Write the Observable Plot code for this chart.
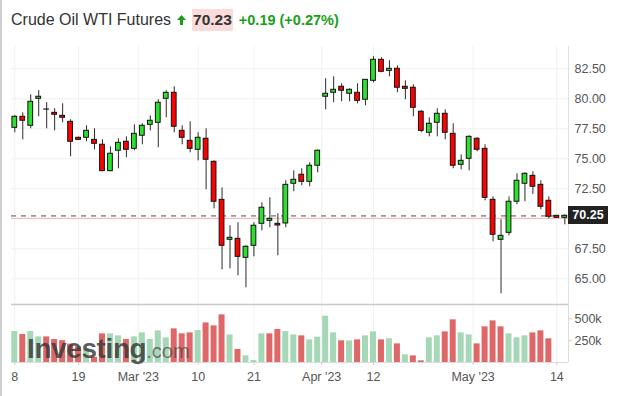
<!DOCTYPE html>
<html>
<head>
<meta charset="utf-8">
<script src="https://cdn.jsdelivr.net/npm/d3@7"></script>
<script src="https://cdn.jsdelivr.net/npm/@observablehq/plot@0.6"></script>
<style>
  html, body { margin: 0; padding: 0; background: #fff; }
  #root { position: relative; width: 637px; height: 396px; overflow: hidden; font-family: "Liberation Sans", Arial, sans-serif; }
  #leftBorder { position: absolute; left: 0; top: 0; width: 2px; height: 396px; background: #cfcfcf; }
  #header { position: absolute; left: 11px; top: 8px; height: 24px; display: flex; align-items: center; white-space: nowrap; }
  #title { font-size: 16px; color: #333; }
  #arrow { margin-left: 6px; margin-right: 6px; }
  #last { font-size: 15.5px; font-weight: bold; color: #333; background: #fadada; height: 22px; line-height: 22px; padding: 0 1px; }
  #chg { font-size: 14.5px; font-weight: bold; color: #1a9e1a; margin-left: 6px; }
  .panel { position: absolute; left: 0; }
  #priceBox { position: absolute; left: 568px; width: 40px; height: 18px; line-height: 18px; background: #222; color: #fff; font-size: 12.5px; font-weight: bold; text-align: center; }
  #wm { position: absolute; left: 27px; top: 334.6px; line-height: 28px; white-space: nowrap; pointer-events: none; }
  #wm .a { font-size: 28px; font-weight: bold; color: rgba(55,55,55,0.82); letter-spacing: -0.4px; }
  #wm .b { font-size: 20px; color: rgba(70,70,70,0.72); }
</style>
</head>
<body>
<div id="root">
  <div id="leftBorder"></div>
  <div id="header">
    <span id="title"></span>
    <svg id="arrow" width="9" height="10" viewBox="0 0 9 10"><path d="M4.5,0 L9,5 L6,5 L6,10 L3,10 L3,5 L0,5 Z" fill="#1a9e1a"/></svg>
    <span id="last"></span>
    <span id="chg"></span>
  </div>
</div>
<script>
// ---- header text ----
const titleText = "Crude Oil WTI Futures";
const lastText = "70.23";
const changeText = "+0.19 (+0.27%)";

// ---- candles (daily OHLC) ----
const opens = [77.58,78.5,77.75,80.0,79.11,78.83,78.58,78.08,76.75,76.75,
  76.58,76.17,73.97,75.67,76.42,75.83,76.92,77.83,78.0,80.0,
  80.5,77.33,76.5,75.75,76.67,74.75,71.58,68.25,68.33,66.75,
  67.75,69.58,69.83,69.58,69.61,72.92,73.67,73.08,74.42,80.17,
  80.5,81.0,80.42,80.5,79.92,81.5,83.25,82.33,82.5,81.0,
  80.92,78.92,77.17,78.0,78.75,77.08,74.5,75.0,76.67,75.83,
  71.58,68.25,68.83,71.42,72.92,73.58,72.83,71.5,70.25,70.08];
const closes = [78.5,78.17,79.75,80.17,79.1,78.67,78.42,76.42,76.58,77.33,
  76.25,73.97,75.42,76.33,75.75,77.08,77.75,78.17,79.67,80.5,
  77.67,76.75,75.83,76.75,74.92,71.42,67.75,68.42,66.83,67.67,
  69.42,70.92,70.0,69.44,72.83,73.25,73.08,74.42,75.67,80.42,
  80.75,80.67,80.75,79.83,81.58,83.25,82.25,82.5,80.92,80.83,
  79.25,77.33,77.92,78.75,77.17,74.42,74.83,76.83,75.75,71.75,
  68.67,68.58,71.42,73.17,73.75,72.67,71.0,70.17,70.08,70.25];
const highs = [78.61,78.83,80.33,80.69,79.67,79.17,79.58,78.25,76.8,77.75,
  77.5,76.58,76.0,76.67,76.83,77.83,77.92,78.58,79.92,80.67,
  81.0,77.75,78.08,77.17,77.5,74.83,72.58,69.42,69.67,67.75,
  69.67,71.33,71.75,70.42,73.17,74.0,74.17,74.67,75.75,81.67,
  81.83,81.25,80.83,81.25,81.58,83.5,83.42,83.17,82.75,81.5,
  81.17,79.0,78.42,79.17,79.08,77.92,75.33,76.92,76.75,76.17,
  71.83,69.92,71.83,73.75,73.83,73.92,73.17,71.83,70.25,70.33];
const lows = [77.17,76.58,77.5,78.5,77.5,77.33,78.0,75.17,76.53,76.42,
  75.75,73.92,73.92,74.17,75.08,75.67,76.17,77.33,75.92,78.42,
  77.17,76.17,75.5,74.83,72.42,70.83,65.75,65.83,65.25,64.25,
  66.83,69.0,69.25,66.92,69.25,72.25,72.75,72.67,73.83,79.08,
  79.67,79.75,79.75,79.58,79.42,81.33,82.17,81.83,80.5,79.92,
  78.5,77.17,76.83,76.83,76.58,74.17,74.08,74.0,75.58,71.5,
  68.08,63.75,68.58,71.17,71.42,72.03,70.75,70.0,70.03,69.5];

// ---- volume (thousands) and bar direction ----
const volumes = [354,320,354,293,293,263,250,210,180,150,
  60,328,328,305,263,293,339,263,362,282,
  385,328,339,366,453,419,545,316,149,76,
  23,328,328,377,354,316,305,259,290,530,
  339,248,248,259,305,350,259,271,213,88,
  76,19,282,305,350,488,339,316,213,408,
  476,408,328,282,305,339,362,271];
const volumeDir = ("GRGGRRRRRG" + "RRGGRGGGGG" + "RRRGRRRGRG" + "GGRRGGRGGG" +
  "GRGRGGRGRG" + "RRGGRRGGRR" + "RRGGGRRR").split("");

// ---- reference levels ----
const lastPrice = 70.25;
const prevClose = 70.04;

// ---- axes ----
const priceTicks = [65, 67.5, 70, 72.5, 75, 77.5, 80, 82.5];
const volumeTicks = [250, 500];
const dateTickIndex = [0, 8, 15.5, 23, 30, 38.5, 45, 57.5, 68];
const dateTickLabels = ["8", "19", "Mar '23", "10", "21", "Apr '23", "12", "May '23", "14"];

// ---- styling ----
const upColor = "#2ee02e", downColor = "#ff0000";
const volUp = "#a6d7b6", volDown = "#e06767";
const gridColor = "#f1f1f1";
const textColor = "#555";
const font = '"Liberation Sans", Arial, sans-serif';

document.getElementById("title").textContent = titleText;
document.getElementById("last").textContent = lastText;
document.getElementById("chg").textContent = changeText;

const candles = opens.map((o, i) => ({i, open: o, close: closes[i], high: highs[i], low: lows[i]}));
const vols = volumes.map((v, i) => ({i, v, up: volumeDir[i] === "G"}));
// the tick label behind the last-price box is hidden
const labelTicks = priceTicks.filter(t => Math.abs(t - lastPrice) > 1);

const W = 637;
const mL = 11, mR = 69;
const xDomain = [-0.414, 69.464];

const priceChart = Plot.plot({
  width: W, height: 264,
  marginLeft: mL, marginRight: mR, marginTop: 6, marginBottom: 0,
  style: {fontFamily: font, fontSize: "12.5px", background: "transparent", overflow: "visible"},
  x: {domain: xDomain, axis: null},
  y: {domain: [62.858, 84.358], axis: null},
  marks: [
    Plot.ruleY(priceTicks, {stroke: gridColor}),
    Plot.ruleX(dateTickIndex, {stroke: gridColor}),
    Plot.ruleX([xDomain[1]], {stroke: "#e2e2e2"}),
    Plot.ruleY([prevClose], {stroke: "#f6b2b2"}),
    Plot.ruleY([lastPrice], {stroke: "#9a9a9a", strokeWidth: 1.8, strokeDasharray: "5,5"}),
    Plot.ruleX(candles, {x: "i", y1: "low", y2: "high", stroke: "#2b2b2b", strokeWidth: 1}),
    Plot.rect(candles, {
      x1: d => d.i - 0.3, x2: d => d.i + 0.3,
      y1: "open", y2: "close",
      fill: d => d.close >= d.open ? upColor : downColor,
      stroke: "#111", strokeWidth: 1
    }),
    Plot.axisY(labelTicks, {anchor: "right", tickSize: 0, tickPadding: 6, label: null, tickFormat: d => d.toFixed(2), fill: textColor})
  ]
});
priceChart.classList.add("panel");
priceChart.style.top = "40px";

const volChart = Plot.plot({
  width: W, height: 92,
  marginLeft: mL, marginRight: mR, marginTop: 0, marginBottom: 34,
  style: {fontFamily: font, fontSize: "12.5px", background: "transparent", overflow: "visible"},
  x: {domain: xDomain, axis: null},
  y: {domain: [0, 663.6], axis: null},
  color: {type: "identity"},
  marks: [
    Plot.ruleX(dateTickIndex, {stroke: gridColor}),
    Plot.rectY(vols, {x1: d => d.i - 0.376, x2: d => d.i + 0.376, y1: 0, y2: "v", fill: d => d.up ? volUp : volDown}),
    Plot.ruleY([663.6], {stroke: "#c8c8c8", strokeWidth: 1.5}),
    Plot.ruleY([0], {stroke: "#dcdcdc"}),
    Plot.ruleX([xDomain[1]], {stroke: "#dcdcdc"}),
    Plot.axisX(dateTickIndex, {anchor: "bottom", tickSize: 3, tickPadding: 7, label: null,
      tickFormat: d => dateTickLabels[dateTickIndex.indexOf(d)], stroke: "#cccccc", fill: textColor}),
    Plot.axisY(volumeTicks, {anchor: "right", tickSize: 3, tickPadding: 3, label: null, tickFormat: d => d + "k", stroke: "#cccccc", fill: textColor})
  ]
});
volChart.classList.add("panel");
volChart.style.top = "304px";

const root = document.getElementById("root");
root.appendChild(priceChart);
root.appendChild(volChart);

// last-price label box placed via the price scale
const yScale = priceChart.scale("y");
const box = document.createElement("div");
box.id = "priceBox";
box.textContent = lastPrice.toFixed(2);
box.style.top = (40 + yScale.apply(lastPrice) - 9) + "px";
root.appendChild(box);

// watermark
const wm = document.createElement("div");
wm.id = "wm";
wm.innerHTML = '<span class="a">Investing</span><span class="b">.com</span>';
root.appendChild(wm);
</script>
</body>
</html>
